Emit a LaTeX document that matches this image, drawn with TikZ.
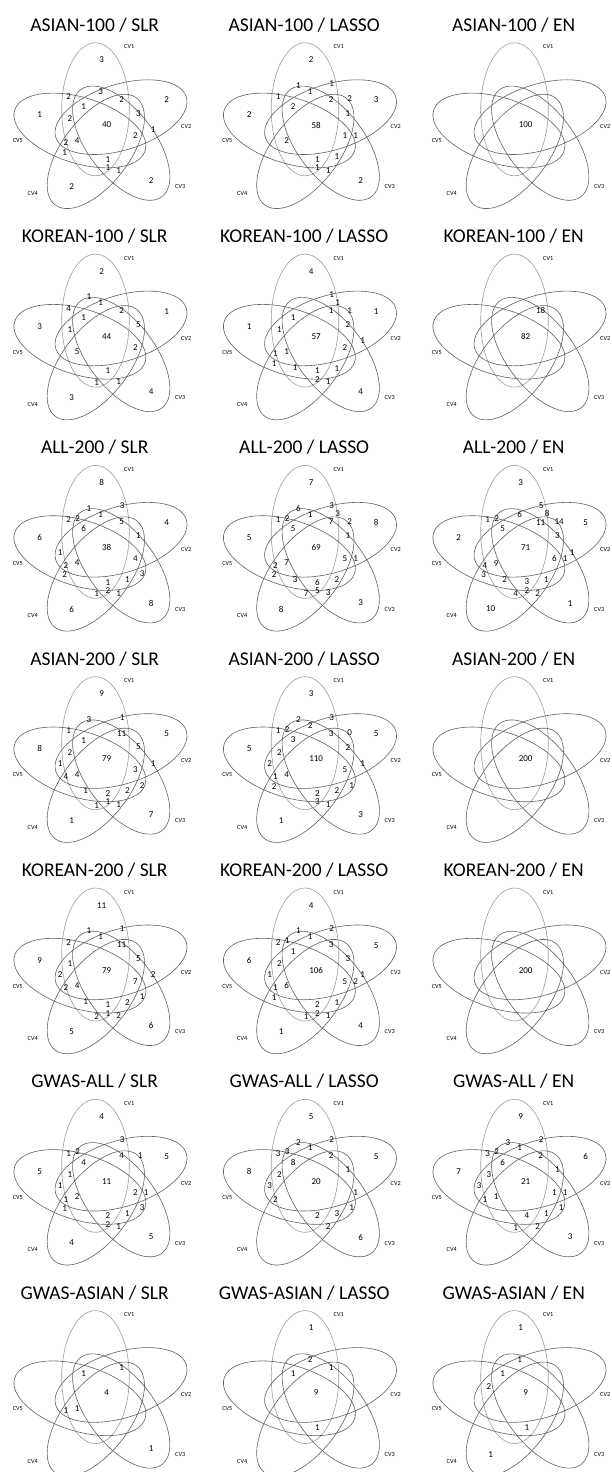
\documentclass[tikz,border=0pt]{standalone}
\usepackage{fontspec}
\setmainfont{Carlito}

% label spots of the 31 regions, offsets from the centre count
\newcommand\spot[3]{%
  \expandafter\def\csname spotx@#1\endcsname{#2}%
  \expandafter\def\csname spoty@#1\endcsname{#3}}
\spot{s0}{0}{0}
\spot{s1}{-5}{-65}
\spot{s2}{60}{-25}
\spot{s3}{44.5}{55.5}
\spot{s4}{-35}{61.5}
\spot{s5}{-67}{-10}
\spot{p}{-17.7}{-39.3}
\spot{r}{15.5}{-41.5}
\spot{rr}{21.5}{-34}
\spot{aL}{-38}{-28}
\spot{aR}{-29}{-29.5}
\spot{b}{-6}{-33.5}
\spot{c}{15}{-25.5}
\spot{cc}{33.5}{-26}
\spot{d}{-23}{-18.8}
\spot{e}{-36.7}{-6.7}
\spot{ee}{-46.5}{4.5}
\spot{f}{31.7}{-11.8}
\spot{g}{46.5}{4.5}
\spot{h}{28.7}{11}
\spot{hh}{39.5}{11}
\spot{i}{-40.8}{17.8}
\spot{j}{-29.5}{15.5}
\spot{k}{-42}{27.2}
\spot{t}{-21}{31.7}
\spot{l}{1.2}{34.5}
\spot{ll}{20.7}{32}
\spot{u}{35.5}{26.5}
\spot{q}{-10}{46.3}
\spot{m}{1.2}{43}
\spot{n}{12}{45.5}

\tikzset{
  setline/.style={draw=black!62, line width=0.6pt},
  cvone/.style={draw=black!38},
  paneltitle/.style={font=\fontsize{19.5}{20}\selectfont, anchor=base, inner sep=0pt},
  cvlabel/.style={font=\fontsize{6.2}{7}\selectfont, inner sep=0pt},
  num/.style={font=\fontsize{9}{9}\selectfont, inner sep=0pt}
}

% #1 column, #2 row, #3 title, #4 spot/count list
\newcommand\vennpanel[4]{%
  \begin{scope}[shift={({106.7+209.5*#1},{125+211.3*#2})}]
    \node[paneltitle] (title-#1-#2) at (-12,-93.7) {#3};
    \begin{scope}[shift={(-4,5.3)}, xscale=1.03]
      \draw[setline, cvone] (-7,-21) ellipse [x radius=32.8, y radius=66.5];
      \foreach \k in {1,...,4}
        \draw[setline, rotate=-72*\k] (-7,-21) ellipse [x radius=32.8, y radius=66.5];
    \end{scope}
    \node[cvlabel] (cv1-#1-#2) at (22.5,-78) {CV1};
    \node[cvlabel] (cv2-#1-#2) at (79.5,2) {CV2};
    \node[cvlabel] (cv3-#1-#2) at (73.5,61.7) {CV3};
    \node[cvlabel] (cv4-#1-#2) at (-74,68.3) {CV4};
    \node[cvlabel] (cv5-#1-#2) at (-88.8,15.8) {CV5};
    \foreach \sp/\val in {#4}{
      \pgfmathsetmacro\sx{\csname spotx@\sp\endcsname}
      \pgfmathsetmacro\sy{\csname spoty@\sp\endcsname}
      \node[num] (n-#1-#2-\sp) at (\sx,\sy) {\val};
    }
  \end{scope}}

\begin{document}
\begin{tikzpicture}[x=1pt, y=-1pt]
  \path[use as bounding box, fill=white] (0,0) rectangle (611,1472);

  \vennpanel{0}{0}{ASIAN-100 / SLR}{s0/40, s1/3, s2/2, s3/2, s4/2, s5/1, aL/2, b/3, c/2, d/1, e/2, f/3, g/1, h/2, i/2, j/4, k/1, l/1, m/1, n/1}
  \vennpanel{1}{0}{ASIAN-100 / LASSO}{s0/58, s1/2, s2/3, s3/2, s5/2, p/1, r/1, b/1, aL/1, c/2, cc/2, d/2, f/1, h/1, hh/1, j/2, l/1, ll/1, m/1, n/1}
  \vennpanel{2}{0}{ASIAN-100 / EN}{s0/100}

  \vennpanel{0}{1}{KOREAN-100 / SLR}{s0/44, s1/2, p/1, aL/4, b/1, c/2, s2/1, d/1, s5/3, f/5, e/1, h/2, j/5, l/1, q/1, n/1, s4/3, s3/4}
  \vennpanel{1}{1}{KOREAN-100 / LASSO}{s0/57, s1/4, r/1, rr/1, c/1, cc/1, s2/1, d/1, f/2, s5/1, e/1, g/1, h/2, j/1, i/1, k/1, t/1, l/1, ll/1, m/2, n/1, s3/4}
  \vennpanel{2}{1}{KOREAN-100 / EN}{s0/82, c/18}

  \vennpanel{0}{2}{ALL-200 / SLR}{s0/38, s1/8, p/1, r/3, aL/2, aR/2, b/1, c/5, s2/4, d/6, s5/6, f/1, ee/1, h/4, i/2, j/4, k/2, u/3, l/1, ll/1, q/1, m/2, n/1, s4/6, s3/8}
  \vennpanel{1}{2}{ALL-200 / LASSO}{s0/69, s1/7, p/6, r/3, rr/3, aL/1, aR/2, b/1, c/7, cc/2, s2/8, d/5, s5/5, f/1, h/5, hh/1, i/2, j/7, k/2, t/3, l/6, ll/2, q/7, m/5, n/3, s4/8, s3/3}
  \vennpanel{2}{2}{ALL-200 / EN}{s0/71, s1/3, r/5, rr/8, b/6, c/11, cc/14, s2/5, aL/1, aR/2, d/5, f/3, s5/2, h/6, hh/1, g/1, i/4, j/9, k/3, t/2, l/3, ll/1, q/4, m/2, n/2, s4/10, s3/1}

  \vennpanel{0}{3}{ASIAN-200 / SLR}{s0/79, s1/9, p/3, r/1, aL/1, c/11, s2/5, d/1, s5/8, f/5, e/2, ee/1, i/4, j/4, g/1, h/3, u/2, ll/2, t/1, l/2, q/1, m/1, n/1, s4/1, s3/7}
  \vennpanel{1}{3}{ASIAN-200 / LASSO}{s0/110, s1/3, p/2, r/3, aL/1, aR/2, b/2, c/3, cc/0, s2/5, d/3, s5/5, f/2, e/2, ee/2, g/1, h/5, j/4, i/1, k/2, l/2, ll/2, u/1, m/3, n/1, s4/1, s3/3}
  \vennpanel{2}{3}{ASIAN-200 / EN}{s0/200}

  \vennpanel{0}{4}{KOREAN-200 / SLR}{s0/79, s1/11, p/1, r/1, aL/2, b/1, c/11, s5/9, e/1, f/5, ee/2, h/7, g/2, i/2, j/4, u/1, t/1, l/1, ll/2, q/2, m/1, n/2, s4/5, s3/6}
  \vennpanel{1}{4}{KOREAN-200 / LASSO}{s0/106, s1/4, p/1, r/2, aL/2, aR/1, b/1, c/3, s2/5, d/1, s5/6, f/3, e/2, ee/1, h/5, hh/2, g/1, i/1, j/6, k/1, ll/1, l/2, q/1, m/2, n/1, s4/1, s3/4}
  \vennpanel{2}{4}{KOREAN-200 / EN}{s0/200}

  \vennpanel{0}{5}{GWAS-ALL / SLR}{s0/11, s1/4, r/3, aL/1, aR/2, c/4, cc/1, d/4, s5/5, s2/5, e/1, ee/1, h/2, hh/1, i/1, j/2, k/1, u/3, ll/1, l/2, m/2, n/1, s4/4, s3/5}
  \vennpanel{1}{5}{GWAS-ALL / LASSO}{s0/20, s1/5, p/2, r/2, b/1, aL/3, aR/3, c/2, d/8, s5/8, s2/5, f/1, e/2, ee/3, hh/1, i/2, u/1, ll/3, l/2, n/2, s3/6}
  \vennpanel{2}{5}{GWAS-ALL / EN}{s0/21, s1/9, p/3, r/2, aL/3, aR/2, b/1, c/2, d/6, s5/7, f/1, e/3, ee/3, h/1, hh/1, i/1, j/1, u/1, ll/1, l/4, q/1, n/2, s2/6, s3/3}

  \vennpanel{0}{6}{GWAS-ASIAN / SLR}{s0/4, c/1, d/1, i/1, j/1, s3/1}
  \vennpanel{1}{6}{GWAS-ASIAN / LASSO}{s0/9, s1/1, b/2, c/1, d/1, l/1}
  \vennpanel{2}{6}{GWAS-ASIAN / EN}{s0/9, s1/1, b/1, d/1, e/2, l/1, s4/1}
\end{tikzpicture}
\end{document}
